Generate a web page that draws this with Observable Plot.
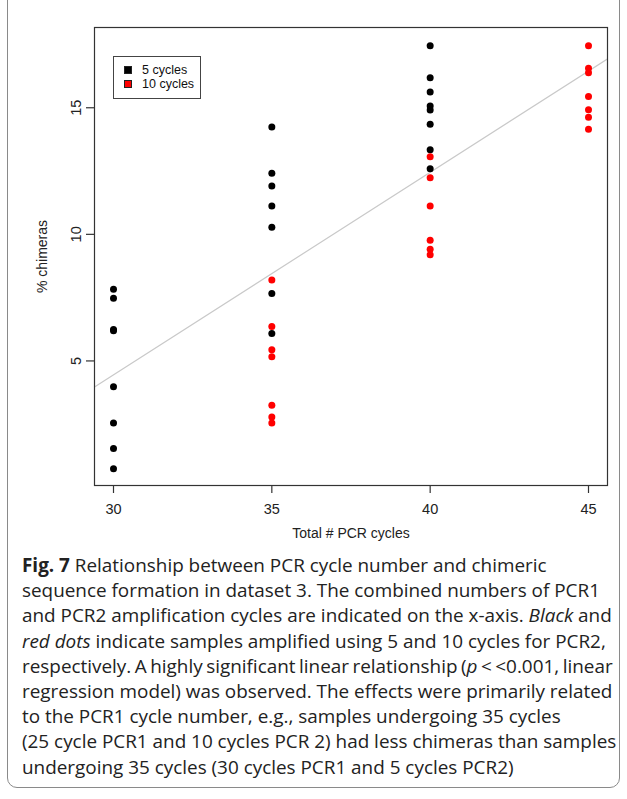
<!DOCTYPE html>
<html>
<head>
<meta charset="utf-8">
<script src="https://cdn.jsdelivr.net/npm/d3@7"></script>
<script src="https://cdn.jsdelivr.net/npm/@observablehq/plot@0.6"></script>
<style>
  html, body { margin: 0; padding: 0; background: #fff; }
  body { width: 627px; height: 799px; position: relative; overflow: hidden; }
  #frame { position: absolute; left: 7px; top: -20px; width: 613px; height: 808px;
           border: 1.5px solid #8a8a8a; border-radius: 10px; box-sizing: border-box; }
  #chart { position: absolute; left: 0; top: 0; }
  #legend { position: absolute; left: 113px; top: 56px; width: 88px; height: 43px; box-sizing: border-box;
            border: 1px solid #444; background: #fff; font-family: "Liberation Sans", Arial, sans-serif;
            font-size: 12.5px; color: #111; padding: 6px 0 0 10px; }
  .li { display: flex; align-items: center; height: 14px; }
  .sw { width: 8px; height: 8px; border: 1px solid #222; margin-right: 10px; box-sizing: border-box; }
  #caption { position: absolute; left: 22px; top: 553px; width: 604px; font-family: "Open Sans", sans-serif;
             font-size: 18.9px; line-height: 25.2px; color: #222; white-space: nowrap; }
  #caption .tight { word-spacing: -1.4px; }
</style>
</head>
<body>
<div id="frame"></div>
<div id="chart"></div>
<div id="legend"></div>
<div id="caption"></div>
<script>
// ---- data ----
const cycles = [30, 35, 40, 45];
const xTicks = [30, 35, 40, 45];
const yTicks = [5, 10, 15];
const seriesNames = ["5 cycles", "10 cycles"];
const seriesColors = ["#000000", "#ff0000"];

const black30 = [7.83, 7.48, 6.24, 6.19, 3.98, 2.55, 1.54, 0.74];
const black35 = [14.24, 12.41, 11.91, 11.12, 10.28, 7.66, 6.08];
const red35   = [8.20, 6.36, 5.44, 5.17, 3.25, 2.79, 2.55];
const black40 = [17.45, 16.19, 15.62, 15.07, 14.91, 14.35, 13.34, 12.59];
const red40   = [13.06, 12.24, 11.12, 9.77, 9.41, 9.19];
const red45   = [17.45, 16.56, 16.38, 15.44, 14.92, 14.63, 14.15];

// fitted regression line: y = intercept + slope * x
const fitIntercept = -19.55;
const fitSlope = 0.80;

const xDomain = [29.4, 45.6];
const yDomain = [0.08, 18.17];

const xLabel = "Total # PCR cycles";
const yLabel = "% chimeras";

// ---- build table ----
const points = [];
const addGroup = (x, vals, s) => vals.forEach(v => points.push({x, y: v, series: s}));
addGroup(30, black30, "5 cycles");
addGroup(35, black35, "5 cycles");
addGroup(35, red35, "10 cycles");
addGroup(40, black40, "5 cycles");
addGroup(40, red40, "10 cycles");
addGroup(45, red45, "10 cycles");

const fit = xDomain.map(x => ({x, y: fitIntercept + fitSlope * x}));

const font = "Liberation Sans, Arial, sans-serif";

const chart = Plot.plot({
  width: 627,
  height: 545,
  marginLeft: 94,
  marginRight: 20,
  marginTop: 27,
  marginBottom: 60,
  style: {fontFamily: font, fontSize: "14px", color: "#222", background: "transparent"},
  x: {domain: xDomain},
  y: {domain: yDomain},
  color: {domain: seriesNames, range: seriesColors},
  marks: [
    Plot.line(fit, {x: "x", y: "y", stroke: "#c9c9c9", strokeWidth: 1.2, clip: true}),
    Plot.dot(points, {x: "x", y: "y", fill: "series", r: 3.5, stroke: "none"}),
    Plot.frame({stroke: "#333", strokeWidth: 1.2}),
    Plot.axisX({ticks: xTicks, tickSize: 8, tickPadding: 10, label: null, fontSize: 14.5, stroke: "#333", strokeWidth: 1.2}),
    Plot.axisY({ticks: yTicks, tickSize: 8, tickFormat: () => "", label: null, stroke: "#333", strokeWidth: 1.2}),
    Plot.text(yTicks, {y: d => d, text: d => String(d), frameAnchor: "left", rotate: -90, dx: -18,
                       textAnchor: "middle", lineAnchor: "middle", fontSize: 14.5, fill: "#222"}),
    Plot.text([xLabel], {frameAnchor: "bottom", dy: 48, textAnchor: "middle", lineAnchor: "middle", fontSize: 14, fill: "#222"}),
    Plot.text([yLabel], {frameAnchor: "left", rotate: -90, dx: -52, textAnchor: "middle", lineAnchor: "middle", fontSize: 14, fill: "#222"})
  ]
});
document.getElementById("chart").appendChild(chart);

// legend
const legend = document.getElementById("legend");
seriesNames.forEach((n, i) => {
  const row = document.createElement("div");
  row.className = "li";
  const sw = document.createElement("div");
  sw.className = "sw";
  sw.style.background = seriesColors[i];
  row.appendChild(sw);
  const t = document.createElement("span");
  t.textContent = n;
  row.appendChild(t);
  legend.appendChild(row);
});

// caption
const captionLines = [
  "<b>Fig. 7</b> Relationship between PCR cycle number and chimeric",
  "sequence formation in dataset 3. The combined numbers of PCR1",
  "and PCR2 amplification cycles are indicated on the x-axis. <i>Black</i> and",
  "<i>red dots</i> indicate samples amplified using 5 and 10 cycles for PCR2,",
  "respectively. A highly significant linear relationship (<i>p</i> &lt; &lt;0.001, linear",
  "regression model) was observed. The effects were primarily related",
  "to the PCR1 cycle number, e.g., samples undergoing 35 cycles",
  "(25 cycle PCR1 and 10 cycles PCR 2) had less chimeras than samples",
  "undergoing 35 cycles (30 cycles PCR1 and 5 cycles PCR2)"
];
document.getElementById("caption").innerHTML = captionLines
  .map((l, i) => "<div" + (i === 4 ? " class=\"tight\"" : "") + ">" + l + "</div>").join("");
</script>
</body>
</html>
